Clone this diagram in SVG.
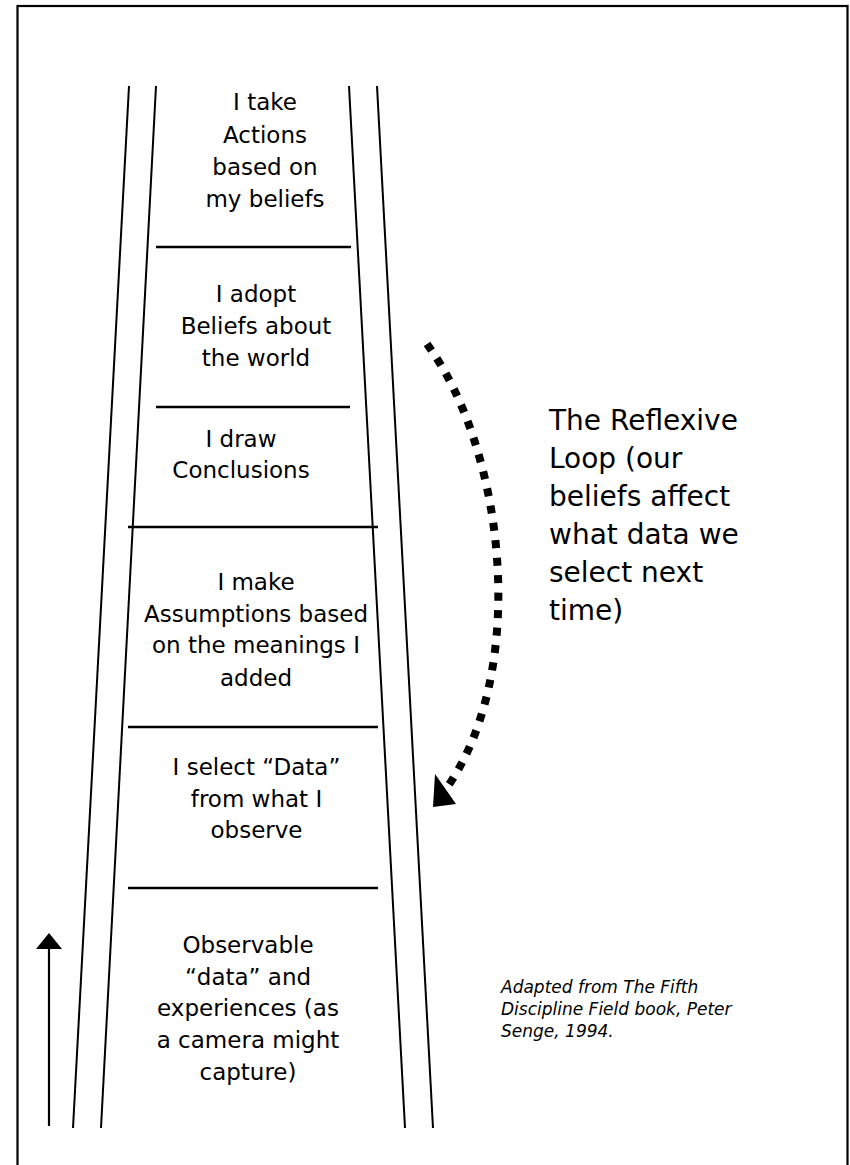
<svg xmlns="http://www.w3.org/2000/svg" width="850" height="1165" viewBox="0 0 850 1165">
  <style>
    .frame { fill: none; stroke: #000; stroke-width: 2.2; }
    .rail { stroke: #000; stroke-width: 2; fill: none; }
    .rung { stroke: #000; stroke-width: 2.6; fill: none; }
    .step { font-family: "DejaVu Sans", Verdana, sans-serif; font-size: 23px; fill: #000; text-anchor: middle; }
    .loop { font-family: "DejaVu Sans", Verdana, sans-serif; font-size: 28px; fill: #000; }
    .cite { font-family: "DejaVu Sans", Verdana, sans-serif; font-size: 17px; font-style: italic; fill: #000; }
    .dots { fill: none; stroke: #000; stroke-width: 8; stroke-dasharray: 8 9.5; }
    .line { stroke: #000; stroke-width: 2.2; fill: none; }
  </style>
  <rect width="850" height="1165" fill="#fff"/>
  <rect class="frame" x="17.5" y="6" width="830" height="1175"/>

  <g id="ladder">
    <line class="rail" x1="129" y1="86" x2="73" y2="1128"/>
    <line class="rail" x1="156" y1="86" x2="101" y2="1128"/>
    <line class="rail" x1="349" y1="86" x2="405" y2="1128"/>
    <line class="rail" x1="377" y1="86" x2="433" y2="1128"/>
    <line class="rung" x1="156" y1="247" x2="351" y2="247"/>
    <line class="rung" x1="156" y1="407" x2="350" y2="407"/>
    <line class="rung" x1="128" y1="527" x2="378" y2="527"/>
    <line class="rung" x1="128" y1="727" x2="378" y2="727"/>
    <line class="rung" x1="128" y1="888" x2="378" y2="888"/>
  </g>

  <g id="step-actions">
    <text class="step" x="265" y="110">I take</text>
    <text class="step" x="265" y="143">Actions</text>
    <text class="step" x="265" y="175">based on</text>
    <text class="step" x="265" y="207">my beliefs</text>
  </g>
  <g id="step-beliefs">
    <text class="step" x="256" y="302">I adopt</text>
    <text class="step" x="256" y="334">Beliefs about</text>
    <text class="step" x="256" y="366">the world</text>
  </g>
  <g id="step-conclusions">
    <text class="step" x="241" y="447">I draw</text>
    <text class="step" x="241" y="478">Conclusions</text>
  </g>
  <g id="step-assumptions">
    <text class="step" x="256" y="590">I make</text>
    <text class="step" x="256" y="622">Assumptions based</text>
    <text class="step" x="256" y="653">on the meanings I</text>
    <text class="step" x="256" y="686">added</text>
  </g>
  <g id="step-select">
    <text class="step" x="256.5" y="775">I select “Data”</text>
    <text class="step" x="256.5" y="807">from what I</text>
    <text class="step" x="256.5" y="838">observe</text>
  </g>
  <g id="step-observable">
    <text class="step" x="248" y="953">Observable</text>
    <text class="step" x="248" y="985">“data” and</text>
    <text class="step" x="248" y="1016">experiences (as</text>
    <text class="step" x="248" y="1048">a camera might</text>
    <text class="step" x="248" y="1080">capture)</text>
  </g>

  <g id="loop-label">
    <text class="loop" x="549" y="430">The Reflexive</text>
    <text class="loop" x="549" y="468">Loop (our</text>
    <text class="loop" x="549" y="506">beliefs affect</text>
    <text class="loop" x="549" y="544">what data we</text>
    <text class="loop" x="549" y="582">select next</text>
    <text class="loop" x="549" y="620">time)</text>
  </g>

  <g id="citation">
    <text class="cite" x="501" y="993">Adapted from The Fifth</text>
    <text class="cite" x="501" y="1015">Discipline Field book, Peter</text>
    <text class="cite" x="501" y="1037">Senge, 1994.</text>
  </g>

  <g id="connectors">
    <path class="dots" d="M427,344 C505,450 530,670 446,789"/>
    <polygon points="433,807 435,774 456,804" fill="#000"/>
    <line class="line" x1="49" y1="1126" x2="49" y2="946"/>
    <polygon points="49,933 36,949 62,949" fill="#000"/>
  </g>
</svg>
